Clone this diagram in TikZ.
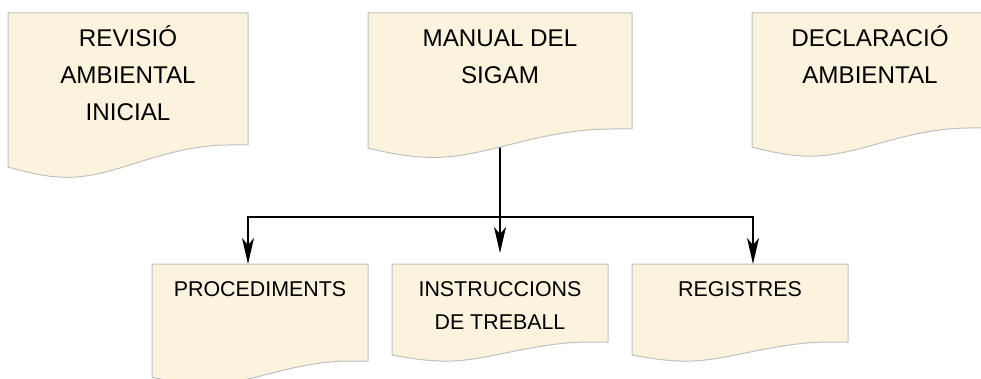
\documentclass[tikz,border=0pt]{standalone}
\usepackage{fontspec}
\setmainfont{Liberation Sans}
\usetikzlibrary{arrows.meta,calc,backgrounds}
\definecolor{docfill}{RGB}{251,243,221}
\definecolor{docedge}{RGB}{192,192,192}
\newcommand{\sigamdoc}[1]{%
  \path[docline] let \p1=(#1.north west), \p2=(#1.south east),
    \n1={\x2-\x1}, \n2={\y1-\y2} in
    (\p1) -- (\x2,\y1) -- (\p2) -- (\x2-0.08*\n1,\y2)
    .. controls (\x2-0.35*\n1,\y2) and (\x1+0.45*\n1,\y2-0.245*\n2) .. (\x1+0.25*\n1,\y2-0.245*\n2)
    .. controls (\x1+0.15*\n1,\y2-0.245*\n2) and (\x1+0.07*\n1,\y2-0.2*\n2) .. (\x1,\y2-0.167*\n2) -- cycle;}
\begin{document}
\begin{tikzpicture}[x=1pt,y=1pt,
  docbox/.style={shape=rectangle,inner sep=0pt,outer sep=0pt,anchor=north},
  docline/.style={fill=docfill,draw=docedge,line width=1pt},
  bigtext/.style={align=center,inner sep=0pt,anchor=north,
    font=\fontsize{24.2}{37}\selectfont},
  smalltext/.style={align=center,inner sep=0pt,anchor=north,
    font=\fontsize{21.4}{33}\selectfont},
  link/.style={line width=1.9pt},
  arrow/.style={link,-{Stealth[length=26pt,width=12pt,inset=7pt]}}]
\useasboundingbox (0,0) rectangle (981,-379);
\clip (0,0) rectangle (981,-379);
% document boxes
\node[docbox,minimum width=240,minimum height=132,name=rev] at (128,-13){};
\node[docbox,minimum width=264,minimum height=116,name=man] at (500,-13){};
\node[docbox,minimum width=236,minimum height=115,name=dec] at (870,-13){};
\node[docbox,minimum width=216,minimum height=97,name=proc] at (260,-264){};
\node[docbox,minimum width=216,minimum height=78,name=inst] at (500,-264){};
\node[docbox,minimum width=216,minimum height=78,name=reg] at (740,-264){};
% texts
\node[bigtext,name=revtext] at ([yshift=-7]rev.north){\strut REVISIÓ\\AMBIENTAL\\INICIAL};
\node[bigtext,name=mantext] at ([yshift=-7]man.north){\strut MANUAL DEL\\SIGAM};
\node[bigtext,name=dectext] at ([yshift=-7]dec.north){\strut DECLARACIÓ\\AMBIENTAL};
\node[smalltext,name=proctext] at ([yshift=-9]proc.north){\strut PROCEDIMENTS};
\node[smalltext,name=insttext] at ([yshift=-9]inst.north){\strut INSTRUCCIONS\\DE TREBALL};
\node[smalltext,name=regtext] at ([yshift=-9]reg.north){\strut REGISTRES};
\coordinate (split) at (500,-217);
\begin{scope}[on background layer]
\draw[link] (man.south)--(split);
\foreach \d in {rev,man,dec,proc,inst,reg}{\sigamdoc{\d}}
\end{scope}
\draw[arrow] (split)-|([xshift=-12]proc.north);
\draw[arrow] (split)-|([xshift=13]reg.north);
\draw[arrow,shorten >=11pt] (split)--(inst.north);
\end{tikzpicture}
\end{document}
